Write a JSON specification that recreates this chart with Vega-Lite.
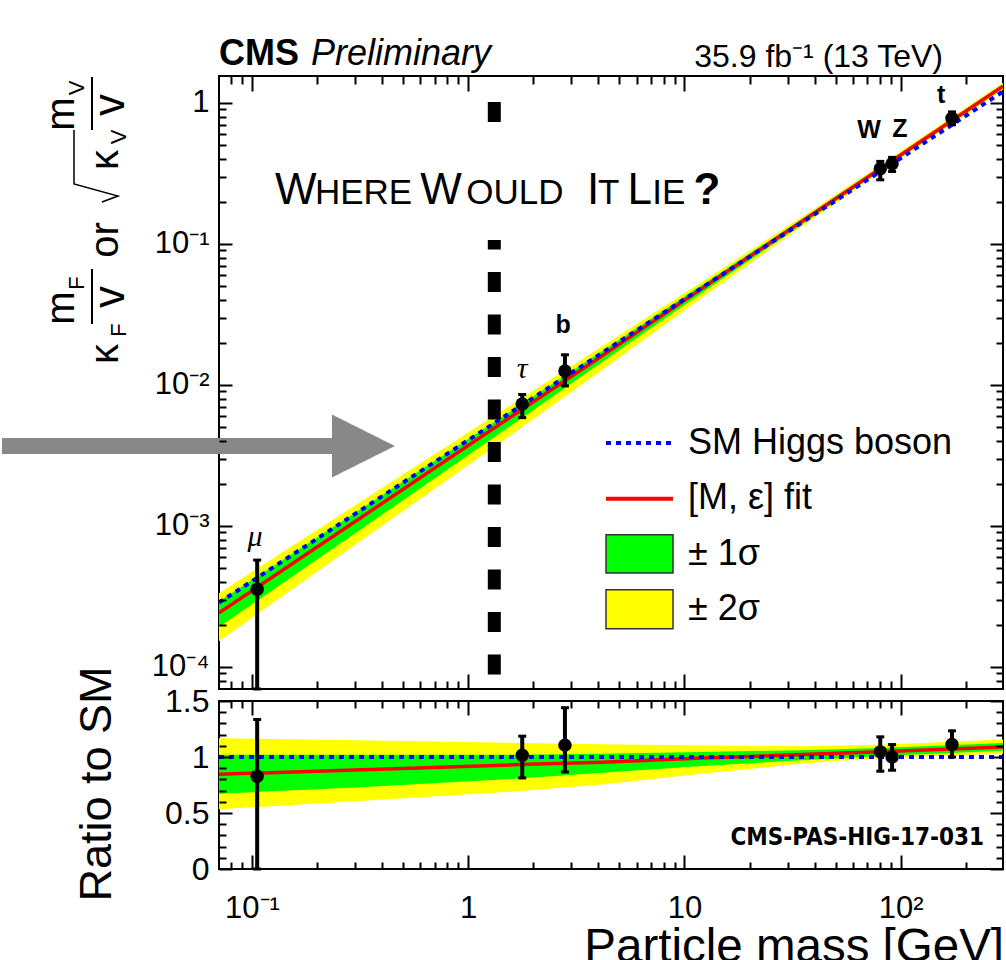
{
  "$schema": "https://vega.github.io/schema/vega-lite/v6.json",
  "padding": 0,
  "background": "white",
  "spacing": 12,
  "bounds": "flush",
  "config": {"view": {"stroke": "black", "strokeWidth": 2}, "font": "Liberation Sans"},
  "datasets": {
    "tb": [
      {"m": 0.0704, "sm": 2.8592e-4, "fit": 2.419e-4, "lo2": 1.524e-4, "lo1": 1.921e-4, "hi1": 2.916e-4, "hi2": 3.340e-4},
      {"m": 0.3, "sm": 1.2184e-3, "fit": 1.0771e-3, "lo2": 7.371e-4, "lo1": 8.870e-4, "hi1": 1.2428e-3, "hi2": 1.4012e-3},
      {"m": 1.7, "sm": 6.904e-3, "fit": 6.435e-3, "lo2": 4.792e-3, "lo1": 5.572e-3, "hi1": 7.043e-3, "hi2": 7.774e-3},
      {"m": 4.16, "sm": 1.6896e-2, "fit": 1.6101e-2, "lo2": 1.2756e-2, "lo1": 1.4530e-2, "hi1": 1.7403e-2, "hi2": 1.8805e-2},
      {"m": 12, "sm": 4.8737e-2, "fit": 4.8250e-2, "lo2": 4.1426e-2, "lo1": 4.4838e-2, "hi1": 5.0930e-2, "hi2": 5.3757e-2},
      {"m": 35, "sm": 0.14215, "fit": 0.14528, "lo2": 0.13376, "lo1": 0.13803, "hi1": 0.15082, "hi2": 0.15594},
      {"m": 80, "sm": 0.32491, "fit": 0.34018, "lo2": 0.32166, "lo1": 0.32816, "hi1": 0.35090, "hi2": 0.36065},
      {"m": 297, "sm": 1.20624, "fit": 1.31480, "lo2": 1.24243, "lo1": 1.27258, "hi1": 1.35823, "hi2": 1.39441}
    ],
    "rb": [
      {"m": 0.0704, "one": 1, "fit": 0.846, "lo2": 0.533, "lo1": 0.672, "hi1": 1.02, "hi2": 1.168},
      {"m": 0.3, "one": 1, "fit": 0.884, "lo2": 0.605, "lo1": 0.728, "hi1": 1.02, "hi2": 1.15},
      {"m": 1.7, "one": 1, "fit": 0.932, "lo2": 0.694, "lo1": 0.807, "hi1": 1.02, "hi2": 1.126},
      {"m": 4.16, "one": 1, "fit": 0.953, "lo2": 0.755, "lo1": 0.86, "hi1": 1.03, "hi2": 1.113},
      {"m": 12, "one": 1, "fit": 0.99, "lo2": 0.85, "lo1": 0.92, "hi1": 1.045, "hi2": 1.103},
      {"m": 35, "one": 1, "fit": 1.022, "lo2": 0.941, "lo1": 0.971, "hi1": 1.061, "hi2": 1.097},
      {"m": 80, "one": 1, "fit": 1.047, "lo2": 0.99, "lo1": 1.01, "hi1": 1.08, "hi2": 1.11},
      {"m": 297, "one": 1, "fit": 1.09, "lo2": 1.03, "lo1": 1.055, "hi1": 1.126, "hi2": 1.156}
    ],
    "tp": [
      {"p": "μ", "m": 0.1057, "v": 3.555e-4, "lo": 6.98e-5, "hi": 5.731e-4},
      {"p": "τ", "m": 1.777, "v": 7.333e-3, "lo": 5.867e-3, "hi": 8.559e-3},
      {"p": "b", "m": 2.8, "v": 1.2578e-2, "lo": 9.848e-3, "hi": 1.6376e-2},
      {"p": "W", "m": 80.4, "v": 0.34156, "lo": 0.28507, "hi": 0.38532},
      {"p": "Z", "m": 91.19, "v": 0.37073, "lo": 0.32666, "hi": 0.41147},
      {"p": "t", "m": 172.5, "v": 0.77836, "lo": 0.70059, "hi": 0.86453}
    ],
    "rp": [
      {"p": "μ", "m": 0.1057, "v": 0.828, "lo": 0, "hi": 1.335},
      {"p": "τ", "m": 1.777, "v": 1.016, "lo": 0.813, "hi": 1.186},
      {"p": "b", "m": 2.8, "v": 1.106, "lo": 0.866, "hi": 1.44},
      {"p": "W", "m": 80.4, "v": 1.046, "lo": 0.873, "hi": 1.18},
      {"p": "Z", "m": 91.19, "v": 1.001, "lo": 0.882, "hi": 1.111},
      {"p": "t", "m": 172.5, "v": 1.111, "lo": 1.0, "hi": 1.234}
    ]
  },
  "vconcat": [
    {
      "width": 784,
      "height": 613,
      "resolve": {"axis": {"x": "independent", "y": "independent"}},
      "layer": [
        {
          "data": {"name": "tb"},
          "mark": {"type": "area", "orient": "vertical", "color": "#ffff00", "clip": true},
          "encoding": {
            "x": {"field": "m", "type": "quantitative", "scale": {"type": "log", "domain": [0.0704, 297], "nice": false},
              "axis": {"orient": "bottom", "values": [0.08,0.09,0.1,0.2,0.3,0.4,0.5,0.6,0.7,0.8,0.9,1,2,3,4,5,6,7,8,9,10,20,30,40,50,60,70,80,90,100,200],
                "labels": false, "title": null, "domain": false, "grid": false, "tickColor": "black", "tickWidth": 2, "zindex": 1,
                "tickSize": {"condition": {"test": "indexof([0.1,1,10,100],datum.value)>=0", "value": -15}, "value": -8}}},
            "y": {"field": "lo2", "type": "quantitative", "scale": {"type": "log", "domain": [6.98e-5, 1.554], "nice": false},
              "axis": {"orient": "left", "values": [8e-5,9e-5,0.0001,0.0002,0.0003,0.0004,0.0005,0.0006,0.0007,0.0008,0.0009,0.001,0.002,0.003,0.004,0.005,0.006,0.007,0.008,0.009,0.01,0.02,0.03,0.04,0.05,0.06,0.07,0.08,0.09,0.1,0.2,0.3,0.4,0.5,0.6,0.7,0.8,0.9,1],
                "labelExpr": "datum.value==1?'1':datum.value==0.1?'10⁻¹':datum.value==0.01?'10⁻²':datum.value==0.001?'10⁻³':datum.value==0.0001?'10⁻⁴':''",
                "labelFont": "Liberation Sans", "labelFontSize": 31, "labelColor": "black", "labelPadding": 23, "labelOverlap": false, "labelFlush": false,
                "title": null, "domain": false, "grid": false, "tickColor": "black", "tickWidth": 2, "zindex": 1,
                "tickSize": {"condition": {"test": "indexof([0.0001,0.001,0.01,0.1,1],datum.value)>=0", "value": -13}, "value": -7}}},
            "y2": {"field": "hi2"}
          }
        },
        {
          "data": {"name": "tb"},
          "mark": {"type": "area", "orient": "vertical", "color": "#00ff00", "clip": true},
          "encoding": {
            "x": {"field": "m", "type": "quantitative", "scale": {"type": "log", "domain": [0.0704, 297], "nice": false},
              "axis": {"orient": "top", "values": [0.08,0.09,0.1,0.2,0.3,0.4,0.5,0.6,0.7,0.8,0.9,1,2,3,4,5,6,7,8,9,10,20,30,40,50,60,70,80,90,100,200],
                "labels": false, "title": null, "domain": false, "grid": false, "tickColor": "black", "tickWidth": 2, "zindex": 1,
                "tickSize": {"condition": {"test": "indexof([0.1,1,10,100],datum.value)>=0", "value": -15}, "value": -8}}},
            "y": {"field": "lo1", "type": "quantitative", "scale": {"type": "log", "domain": [6.98e-5, 1.554], "nice": false},
              "axis": {"orient": "right", "values": [8e-5,9e-5,0.0001,0.0002,0.0003,0.0004,0.0005,0.0006,0.0007,0.0008,0.0009,0.001,0.002,0.003,0.004,0.005,0.006,0.007,0.008,0.009,0.01,0.02,0.03,0.04,0.05,0.06,0.07,0.08,0.09,0.1,0.2,0.3,0.4,0.5,0.6,0.7,0.8,0.9,1],
                "labels": false, "title": null, "domain": false, "grid": false, "tickColor": "black", "tickWidth": 2, "zindex": 1,
                "tickSize": {"condition": {"test": "indexof([0.0001,0.001,0.01,0.1,1],datum.value)>=0", "value": -13}, "value": -7}}},
            "y2": {"field": "hi1"}
          }
        },
        {
          "data": {"name": "tb"},
          "mark": {"type": "line", "color": "#ff0000", "strokeWidth": 3.5, "clip": true},
          "encoding": {
            "x": {"field": "m", "type": "quantitative", "scale": {"type": "log", "domain": [0.0704, 297], "nice": false}, "axis": null},
            "y": {"field": "fit", "type": "quantitative", "scale": {"type": "log", "domain": [6.98e-5, 1.554], "nice": false}, "axis": null}
          }
        },
        {
          "data": {"name": "tb"},
          "mark": {"type": "line", "color": "#0000ff", "strokeWidth": 4, "strokeDash": [5, 5], "clip": true},
          "encoding": {
            "x": {"field": "m", "type": "quantitative", "scale": {"type": "log", "domain": [0.0704, 297], "nice": false}, "axis": null},
            "y": {"field": "sm", "type": "quantitative", "scale": {"type": "log", "domain": [6.98e-5, 1.554], "nice": false}, "axis": null}
          }
        },
        {
          "data": {"values": [{"m": 1.32, "top": 1.016, "bot": 8.49e-5}]},
          "mark": {"type": "rule", "color": "black", "strokeWidth": 13, "strokeDash": [20, 22.5], "strokeCap": "butt"},
          "encoding": {
            "x": {"field": "m", "type": "quantitative", "scale": {"type": "log", "domain": [0.0704, 297], "nice": false}, "axis": null},
            "y": {"field": "top", "type": "quantitative", "scale": {"type": "log", "domain": [6.98e-5, 1.554], "nice": false}, "axis": null},
            "y2": {"field": "bot"}
          }
        },
        {
          "data": {"values": [{"x1": 0.11, "x2": 15, "y1": 0.1068, "y2": 0.70}]},
          "mark": {"type": "rect", "fill": "white"},
          "encoding": {
            "x": {"field": "x1", "type": "quantitative", "scale": {"type": "log", "domain": [0.0704, 297], "nice": false}, "axis": null},
            "x2": {"field": "x2"},
            "y": {"field": "y1", "type": "quantitative", "scale": {"type": "log", "domain": [6.98e-5, 1.554], "nice": false}, "axis": null},
            "y2": {"field": "y2"}
          }
        },
        {
          "data": {"values": [{"t": "W", "m": 0.12784, "y": 0.19218}, {"t": "W", "m": 0.6, "y": 0.19218}, {"t": "I", "m": 3.5414, "y": 0.19218}, {"t": "L", "m": 5.45, "y": 0.19218}]},
          "mark": {"type": "text", "font": "Liberation Sans", "fontSize": 44, "align": "left", "baseline": "alphabetic", "color": "black"},
          "encoding": {
            "x": {"field": "m", "type": "quantitative", "scale": {"type": "log", "domain": [0.0704, 297], "nice": false}, "axis": null},
            "y": {"field": "y", "type": "quantitative", "scale": {"type": "log", "domain": [6.98e-5, 1.554], "nice": false}, "axis": null},
            "text": {"field": "t"}
          }
        },
        {
          "data": {"values": [{"t": "HERE", "m": 0.1955, "y": 0.19218}, {"t": "OULD", "m": 0.98, "y": 0.19218}, {"t": "T", "m": 3.98, "y": 0.19218}, {"t": "IE", "m": 7.1, "y": 0.19218}]},
          "mark": {"type": "text", "font": "Liberation Sans", "fontSize": 35, "align": "left", "baseline": "alphabetic", "color": "black"},
          "encoding": {
            "x": {"field": "m", "type": "quantitative", "scale": {"type": "log", "domain": [0.0704, 297], "nice": false}, "axis": null},
            "y": {"field": "y", "type": "quantitative", "scale": {"type": "log", "domain": [6.98e-5, 1.554], "nice": false}, "axis": null},
            "text": {"field": "t"}
          }
        },
        {
          "data": {"values": [{"t": "?", "m": 11.0, "y": 0.19218}]},
          "mark": {"type": "text", "font": "Liberation Sans", "fontSize": 44, "fontWeight": "bold", "align": "left", "baseline": "alphabetic", "color": "black"},
          "encoding": {
            "x": {"field": "m", "type": "quantitative", "scale": {"type": "log", "domain": [0.0704, 297], "nice": false}, "axis": null},
            "y": {"field": "y", "type": "quantitative", "scale": {"type": "log", "domain": [6.98e-5, 1.554], "nice": false}, "axis": null},
            "text": {"field": "t"}
          }
        },
        {
          "data": {"name": "tp"},
          "mark": {"type": "rule", "color": "black", "strokeWidth": 4},
          "encoding": {
            "x": {"field": "m", "type": "quantitative", "scale": {"type": "log", "domain": [0.0704, 297], "nice": false}, "axis": null},
            "y": {"field": "lo", "type": "quantitative", "scale": {"type": "log", "domain": [6.98e-5, 1.554], "nice": false}, "axis": null},
            "y2": {"field": "hi"}
          }
        },
        {
          "data": {"name": "tp"},
          "mark": {"type": "tick", "orient": "horizontal", "color": "black", "size": 8, "thickness": 3, "opacity": 1},
          "encoding": {
            "x": {"field": "m", "type": "quantitative", "scale": {"type": "log", "domain": [0.0704, 297], "nice": false}, "axis": null},
            "y": {"field": "lo", "type": "quantitative", "scale": {"type": "log", "domain": [6.98e-5, 1.554], "nice": false}, "axis": null}
          }
        },
        {
          "data": {"name": "tp"},
          "mark": {"type": "tick", "orient": "horizontal", "color": "black", "size": 8, "thickness": 3, "opacity": 1},
          "encoding": {
            "x": {"field": "m", "type": "quantitative", "scale": {"type": "log", "domain": [0.0704, 297], "nice": false}, "axis": null},
            "y": {"field": "hi", "type": "quantitative", "scale": {"type": "log", "domain": [6.98e-5, 1.554], "nice": false}, "axis": null}
          }
        },
        {
          "data": {"name": "tp"},
          "mark": {"type": "point", "shape": "circle", "filled": true, "color": "black", "size": 180, "opacity": 1},
          "encoding": {
            "x": {"field": "m", "type": "quantitative", "scale": {"type": "log", "domain": [0.0704, 297], "nice": false}, "axis": null},
            "y": {"field": "v", "type": "quantitative", "scale": {"type": "log", "domain": [6.98e-5, 1.554], "nice": false}, "axis": null}
          }
        },
        {
          "data": {"values": [{"t": "b", "m": 2.7436, "y": 0.026637}, {"t": "W", "m": 71.33, "y": 0.64353}, {"t": "Z", "m": 99.21, "y": 0.65412}, {"t": "t", "m": 153.56, "y": 1.1396}]},
          "mark": {"type": "text", "font": "Liberation Sans", "fontSize": 25, "fontWeight": "bold", "align": "center", "baseline": "middle", "color": "black"},
          "encoding": {
            "x": {"field": "m", "type": "quantitative", "scale": {"type": "log", "domain": [0.0704, 297], "nice": false}, "axis": null},
            "y": {"field": "y", "type": "quantitative", "scale": {"type": "log", "domain": [6.98e-5, 1.554], "nice": false}, "axis": null},
            "text": {"field": "t"}
          }
        },
        {
          "data": {"values": [{"t": "μ", "m": 0.10329, "y": 8.3e-4}, {"t": "τ", "m": 1.7731, "y": 0.012988}]},
          "mark": {"type": "text", "font": "Liberation Serif", "fontSize": 30, "fontStyle": "italic", "align": "center", "baseline": "middle", "color": "black"},
          "encoding": {
            "x": {"field": "m", "type": "quantitative", "scale": {"type": "log", "domain": [0.0704, 297], "nice": false}, "axis": null},
            "y": {"field": "y", "type": "quantitative", "scale": {"type": "log", "domain": [6.98e-5, 1.554], "nice": false}, "axis": null},
            "text": {"field": "t"}
          }
        },
        {
          "data": {"values": [{"x1": 4.3358, "x2": 8.8496, "y": 3.8793e-3}]},
          "mark": {"type": "rule", "color": "#0000ff", "strokeWidth": 4, "strokeDash": [5, 5]},
          "encoding": {
            "x": {"field": "x1", "type": "quantitative", "scale": {"type": "log", "domain": [0.0704, 297], "nice": false}, "axis": null},
            "x2": {"field": "x2"},
            "y": {"field": "y", "type": "quantitative", "scale": {"type": "log", "domain": [6.98e-5, 1.554], "nice": false}, "axis": null}
          }
        },
        {
          "data": {"values": [{"x1": 4.3358, "x2": 8.8496, "y": 1.5617e-3}]},
          "mark": {"type": "rule", "color": "#ff0000", "strokeWidth": 4},
          "encoding": {
            "x": {"field": "x1", "type": "quantitative", "scale": {"type": "log", "domain": [0.0704, 297], "nice": false}, "axis": null},
            "x2": {"field": "x2"},
            "y": {"field": "y", "type": "quantitative", "scale": {"type": "log", "domain": [6.98e-5, 1.554], "nice": false}, "axis": null}
          }
        },
        {
          "data": {"values": [{"x1": 4.3358, "x2": 8.8496, "y1": 4.6416e-4, "y2": 8.677e-4, "c": "g"}, {"x1": 4.3358, "x2": 8.8496, "y1": 1.8686e-4, "y2": 3.5335e-4, "c": "y"}]},
          "mark": {"type": "rect", "stroke": "#333333", "strokeWidth": 1.5, "opacity": 1},
          "encoding": {
            "x": {"field": "x1", "type": "quantitative", "scale": {"type": "log", "domain": [0.0704, 297], "nice": false}, "axis": null},
            "x2": {"field": "x2"},
            "y": {"field": "y1", "type": "quantitative", "scale": {"type": "log", "domain": [6.98e-5, 1.554], "nice": false}, "axis": null},
            "y2": {"field": "y2"},
            "fill": {"field": "c", "type": "nominal", "scale": {"domain": ["g", "y"], "range": ["#00ff00", "#ffff00"]}, "legend": null}
          }
        },
        {
          "data": {"values": [{"t": "SM Higgs boson", "m": 10.381, "y": 3.2558e-3}, {"t": "[M, ε] fit", "m": 10.381, "y": 1.3198e-3}, {"t": "± 1σ", "m": 10.381, "y": 5.2898e-4}, {"t": "± 2σ", "m": 10.381, "y": 2.1544e-4}]},
          "mark": {"type": "text", "font": "Liberation Sans", "fontSize": 36, "align": "left", "baseline": "alphabetic", "color": "black"},
          "encoding": {
            "x": {"field": "m", "type": "quantitative", "scale": {"type": "log", "domain": [0.0704, 297], "nice": false}, "axis": null},
            "y": {"field": "y", "type": "quantitative", "scale": {"type": "log", "domain": [6.98e-5, 1.554], "nice": false}, "axis": null},
            "text": {"field": "t"}
          }
        },
        {
          "data": {"values": [{"t": "CMS", "m": 0.0704, "y": 1.851}]},
          "mark": {"type": "text", "font": "Liberation Sans", "fontSize": 36, "fontWeight": "bold", "align": "left", "baseline": "alphabetic", "color": "black"},
          "encoding": {
            "x": {"field": "m", "type": "quantitative", "scale": {"type": "log", "domain": [0.0704, 297], "nice": false}, "axis": null},
            "y": {"field": "y", "type": "quantitative", "scale": {"type": "log", "domain": [6.98e-5, 1.554], "nice": false}, "axis": null},
            "text": {"field": "t"}
          }
        },
        {
          "data": {"values": [{"t": "Preliminary", "m": 0.1875, "y": 1.851}]},
          "mark": {"type": "text", "font": "Liberation Sans", "fontSize": 36, "fontStyle": "italic", "align": "left", "baseline": "alphabetic", "color": "black"},
          "encoding": {
            "x": {"field": "m", "type": "quantitative", "scale": {"type": "log", "domain": [0.0704, 297], "nice": false}, "axis": null},
            "y": {"field": "y", "type": "quantitative", "scale": {"type": "log", "domain": [6.98e-5, 1.554], "nice": false}, "axis": null},
            "text": {"field": "t"}
          }
        },
        {
          "data": {"values": [{"t": "35.9 fb⁻¹ (13 TeV)", "m": 156.79, "y": 1.80}]},
          "mark": {"type": "text", "font": "Liberation Sans", "fontSize": 32, "align": "right", "baseline": "alphabetic", "color": "black"},
          "encoding": {
            "x": {"field": "m", "type": "quantitative", "scale": {"type": "log", "domain": [0.0704, 297], "nice": false}, "axis": null},
            "y": {"field": "y", "type": "quantitative", "scale": {"type": "log", "domain": [6.98e-5, 1.554], "nice": false}, "axis": null},
            "text": {"field": "t"}
          }
        },
        {
          "data": {"values": [{"x1": 0.0069847, "x2": 0.23449, "y1": 3.2396e-3, "y2": 4.2082e-3}]},
          "mark": {"type": "rect", "fill": "#888888"},
          "encoding": {
            "x": {"field": "x1", "type": "quantitative", "scale": {"type": "log", "domain": [0.0704, 297], "nice": false}, "axis": null},
            "x2": {"field": "x2"},
            "y": {"field": "y1", "type": "quantitative", "scale": {"type": "log", "domain": [6.98e-5, 1.554], "nice": false}, "axis": null},
            "y2": {"field": "y2"}
          }
        },
        {
          "data": {"values": [{"m": 0.32758, "y": 3.6935e-3}]},
          "mark": {"type": "point", "shape": "M-1,-1L1,0L-1,1Z", "size": 3969, "filled": true, "color": "#888888", "opacity": 1, "strokeWidth": 0},
          "encoding": {
            "x": {"field": "m", "type": "quantitative", "scale": {"type": "log", "domain": [0.0704, 297], "nice": false}, "axis": null},
            "y": {"field": "y", "type": "quantitative", "scale": {"type": "log", "domain": [6.98e-5, 1.554], "nice": false}, "axis": null}
          }
        },
        {
          "data": {"values": [{"x1": 0.0069847, "x2": 0.0070594, "y1": 5.1193, "y2": 5.2035}]},
          "mark": {"type": "rect", "fill": "white"},
          "encoding": {
            "x": {"field": "x1", "type": "quantitative", "scale": {"type": "log", "domain": [0.0704, 297], "nice": false}, "axis": null},
            "x2": {"field": "x2"},
            "y": {"field": "y1", "type": "quantitative", "scale": {"type": "log", "domain": [6.98e-5, 1.554], "nice": false}, "axis": null},
            "y2": {"field": "y2"}
          }
        },
        {
          "data": {"values": [{"t": "κ", "m": 0.024016, "y": 0.016591}, {"t": "or", "m": 0.024016, "y": 0.10675}, {"t": "κ", "m": 0.024016, "y": 0.39421}, {"t": "m", "m": 0.015034, "y": 0.035169}, {"t": "m", "m": 0.015034, "y": 0.83556}]},
          "mark": {"type": "text", "font": "Liberation Sans", "fontSize": 40, "angle": 270, "align": "center", "baseline": "alphabetic", "color": "black"},
          "encoding": {
            "x": {"field": "m", "type": "quantitative", "scale": {"type": "log", "domain": [0.0704, 297], "nice": false}, "axis": null},
            "y": {"field": "y", "type": "quantitative", "scale": {"type": "log", "domain": [6.98e-5, 1.554], "nice": false}, "axis": null},
            "text": {"field": "t"}
          }
        },
        {
          "data": {"values": [{"t": "F", "m": 0.026158, "y": 0.024548}, {"t": "F", "m": 0.016722, "y": 0.052898}, {"t": "V", "m": 0.026158, "y": 0.57402}, {"t": "V", "m": 0.016722, "y": 1.2777}]},
          "mark": {"type": "text", "font": "Liberation Sans", "fontSize": 22, "angle": 270, "align": "center", "baseline": "alphabetic", "color": "black"},
          "encoding": {
            "x": {"field": "m", "type": "quantitative", "scale": {"type": "log", "domain": [0.0704, 297], "nice": false}, "axis": null},
            "y": {"field": "y", "type": "quantitative", "scale": {"type": "log", "domain": [6.98e-5, 1.554], "nice": false}, "axis": null},
            "text": {"field": "t"}
          }
        },
        {
          "data": {"values": [{"t": "v", "m": 0.025606, "y": 0.042082}, {"t": "v", "m": 0.025606, "y": 0.96788}]},
          "mark": {"type": "text", "font": "Liberation Sans", "fontSize": 44, "angle": 270, "align": "center", "baseline": "alphabetic", "color": "black"},
          "encoding": {
            "x": {"field": "m", "type": "quantitative", "scale": {"type": "log", "domain": [0.0704, 297], "nice": false}, "axis": null},
            "y": {"field": "y", "type": "quantitative", "scale": {"type": "log", "domain": [6.98e-5, 1.554], "nice": false}, "axis": null},
            "text": {"field": "t"}
          }
        },
        {
          "data": {"values": [{"m": 0.018212, "y1": 0.027073, "y2": 0.066467}, {"m": 0.018212, "y1": 0.64353, "y2": 1.5291}]},
          "mark": {"type": "rule", "color": "black", "strokeWidth": 2},
          "encoding": {
            "x": {"field": "m", "type": "quantitative", "scale": {"type": "log", "domain": [0.0704, 297], "nice": false}, "axis": null},
            "y": {"field": "y1", "type": "quantitative", "scale": {"type": "log", "domain": [6.98e-5, 1.554], "nice": false}, "axis": null},
            "y2": {"field": "y2"}
          }
        },
        {
          "data": {"values": [{"o": 1, "m": 0.020252, "y": 0.19859}, {"o": 2, "m": 0.024016, "y": 0.21897}, {"o": 3, "m": 0.015034, "y": 0.26635}, {"o": 4, "m": 0.015034, "y": 0.64353}]},
          "mark": {"type": "line", "color": "black", "strokeWidth": 1.5},
          "encoding": {
            "x": {"field": "m", "type": "quantitative", "scale": {"type": "log", "domain": [0.0704, 297], "nice": false}, "axis": null},
            "y": {"field": "y", "type": "quantitative", "scale": {"type": "log", "domain": [6.98e-5, 1.554], "nice": false}, "axis": null},
            "order": {"field": "o", "type": "quantitative"}
          }
        }
      ]
    },
    {
      "width": 784,
      "height": 168,
      "resolve": {"axis": {"x": "independent", "y": "independent"}},
      "layer": [
        {
          "data": {"name": "rb"},
          "mark": {"type": "area", "orient": "vertical", "color": "#ffff00", "clip": true},
          "encoding": {
            "x": {"field": "m", "type": "quantitative", "scale": {"type": "log", "domain": [0.0704, 297], "nice": false},
              "axis": {"orient": "bottom", "values": [0.08,0.09,0.1,0.2,0.3,0.4,0.5,0.6,0.7,0.8,0.9,1,2,3,4,5,6,7,8,9,10,20,30,40,50,60,70,80,90,100,200],
                "labelExpr": "datum.value==0.1?'10⁻¹':datum.value==1?'1':datum.value==10?'10':datum.value==100?'10²':''",
                "labelFont": "Liberation Sans", "labelFontSize": 31, "labelColor": "black", "labelPadding": 38, "labelOverlap": false, "labelFlush": false,
                "title": null, "domain": false, "grid": false, "tickColor": "black", "tickWidth": 2, "zindex": 1,
                "tickSize": {"condition": {"test": "indexof([0.1,1,10,100],datum.value)>=0", "value": -14}, "value": -7}}},
            "y": {"field": "lo2", "type": "quantitative", "scale": {"domain": [0, 1.5], "nice": false, "zero": false},
              "axis": {"orient": "left", "values": [0,0.1,0.2,0.3,0.4,0.5,0.6,0.7,0.8,0.9,1,1.1,1.2,1.3,1.4,1.5],
                "labelExpr": "datum.value==0?'0':datum.value==0.5?'0.5':datum.value==1?'1':datum.value==1.5?'1.5':''",
                "labelFont": "Liberation Sans", "labelFontSize": 32, "labelColor": "black", "labelPadding": 23, "labelOverlap": false, "labelFlush": false,
                "title": null, "domain": false, "grid": false, "tickColor": "black", "tickWidth": 2, "zindex": 1,
                "tickSize": {"condition": {"test": "indexof([0,0.5,1,1.5],datum.value)>=0", "value": -13}, "value": -7}}},
            "y2": {"field": "hi2"}
          }
        },
        {
          "data": {"name": "rb"},
          "mark": {"type": "area", "orient": "vertical", "color": "#00ff00", "clip": true},
          "encoding": {
            "x": {"field": "m", "type": "quantitative", "scale": {"type": "log", "domain": [0.0704, 297], "nice": false},
              "axis": {"orient": "top", "values": [0.08,0.09,0.1,0.2,0.3,0.4,0.5,0.6,0.7,0.8,0.9,1,2,3,4,5,6,7,8,9,10,20,30,40,50,60,70,80,90,100,200],
                "labels": false, "title": null, "domain": false, "grid": false, "tickColor": "black", "tickWidth": 2, "zindex": 1,
                "tickSize": {"condition": {"test": "indexof([0.1,1,10,100],datum.value)>=0", "value": -14}, "value": -7}}},
            "y": {"field": "lo1", "type": "quantitative", "scale": {"domain": [0, 1.5], "nice": false, "zero": false},
              "axis": {"orient": "right", "values": [0,0.1,0.2,0.3,0.4,0.5,0.6,0.7,0.8,0.9,1,1.1,1.2,1.3,1.4,1.5],
                "labels": false, "title": null, "domain": false, "grid": false, "tickColor": "black", "tickWidth": 2, "zindex": 1,
                "tickSize": {"condition": {"test": "indexof([0,0.5,1,1.5],datum.value)>=0", "value": -13}, "value": -7}}},
            "y2": {"field": "hi1"}
          }
        },
        {
          "data": {"name": "rb"},
          "mark": {"type": "line", "color": "#ff0000", "strokeWidth": 3.5, "clip": true},
          "encoding": {
            "x": {"field": "m", "type": "quantitative", "scale": {"type": "log", "domain": [0.0704, 297], "nice": false}, "axis": null},
            "y": {"field": "fit", "type": "quantitative", "scale": {"domain": [0, 1.5], "nice": false, "zero": false}, "axis": null}
          }
        },
        {
          "data": {"name": "rb"},
          "mark": {"type": "line", "color": "#0000ff", "strokeWidth": 4, "strokeDash": [5, 5], "clip": true},
          "encoding": {
            "x": {"field": "m", "type": "quantitative", "scale": {"type": "log", "domain": [0.0704, 297], "nice": false}, "axis": null},
            "y": {"field": "one", "type": "quantitative", "scale": {"domain": [0, 1.5], "nice": false, "zero": false}, "axis": null}
          }
        },
        {
          "data": {"name": "rp"},
          "mark": {"type": "rule", "color": "black", "strokeWidth": 4},
          "encoding": {
            "x": {"field": "m", "type": "quantitative", "scale": {"type": "log", "domain": [0.0704, 297], "nice": false}, "axis": null},
            "y": {"field": "lo", "type": "quantitative", "scale": {"domain": [0, 1.5], "nice": false, "zero": false}, "axis": null},
            "y2": {"field": "hi"}
          }
        },
        {
          "data": {"name": "rp"},
          "mark": {"type": "tick", "orient": "horizontal", "color": "black", "size": 8, "thickness": 3, "opacity": 1},
          "encoding": {
            "x": {"field": "m", "type": "quantitative", "scale": {"type": "log", "domain": [0.0704, 297], "nice": false}, "axis": null},
            "y": {"field": "lo", "type": "quantitative", "scale": {"domain": [0, 1.5], "nice": false, "zero": false}, "axis": null}
          }
        },
        {
          "data": {"name": "rp"},
          "mark": {"type": "tick", "orient": "horizontal", "color": "black", "size": 8, "thickness": 3, "opacity": 1},
          "encoding": {
            "x": {"field": "m", "type": "quantitative", "scale": {"type": "log", "domain": [0.0704, 297], "nice": false}, "axis": null},
            "y": {"field": "hi", "type": "quantitative", "scale": {"domain": [0, 1.5], "nice": false, "zero": false}, "axis": null}
          }
        },
        {
          "data": {"name": "rp"},
          "mark": {"type": "point", "shape": "circle", "filled": true, "color": "black", "size": 180, "opacity": 1},
          "encoding": {
            "x": {"field": "m", "type": "quantitative", "scale": {"type": "log", "domain": [0.0704, 297], "nice": false}, "axis": null},
            "y": {"field": "v", "type": "quantitative", "scale": {"domain": [0, 1.5], "nice": false, "zero": false}, "axis": null}
          }
        },
        {
          "data": {"values": [{"t": "CMS-PAS-HIG-17-031", "m": 242.66, "y": 0.2116}]},
          "mark": {"type": "text", "font": "'DejaVu Sans Condensed', 'Liberation Sans', sans-serif", "fontSize": 24, "fontWeight": "bold", "align": "right", "baseline": "alphabetic", "color": "black"},
          "encoding": {
            "x": {"field": "m", "type": "quantitative", "scale": {"type": "log", "domain": [0.0704, 297], "nice": false}, "axis": null},
            "y": {"field": "y", "type": "quantitative", "scale": {"domain": [0, 1.5], "nice": false, "zero": false}, "axis": null},
            "text": {"field": "t"}
          }
        },
        {
          "data": {"values": [{"t": "Ratio to SM", "m": 0.022334, "y": 0.759}]},
          "mark": {"type": "text", "font": "Liberation Sans", "fontSize": 45, "angle": 270, "align": "center", "baseline": "alphabetic", "color": "black"},
          "encoding": {
            "x": {"field": "m", "type": "quantitative", "scale": {"type": "log", "domain": [0.0704, 297], "nice": false}, "axis": null},
            "y": {"field": "y", "type": "quantitative", "scale": {"domain": [0, 1.5], "nice": false, "zero": false}, "axis": null},
            "text": {"field": "t"}
          }
        },
        {
          "data": {"values": [{"t": "Particle mass [GeV]", "m": 300.3, "y": -0.83}]},
          "mark": {"type": "text", "font": "Liberation Sans", "fontSize": 47.5, "align": "right", "baseline": "alphabetic", "color": "black"},
          "encoding": {
            "x": {"field": "m", "type": "quantitative", "scale": {"type": "log", "domain": [0.0704, 297], "nice": false}, "axis": null},
            "y": {"field": "y", "type": "quantitative", "scale": {"domain": [0, 1.5], "nice": false, "zero": false}, "axis": null},
            "text": {"field": "t"}
          }
        }
      ]
    }
  ]
}
